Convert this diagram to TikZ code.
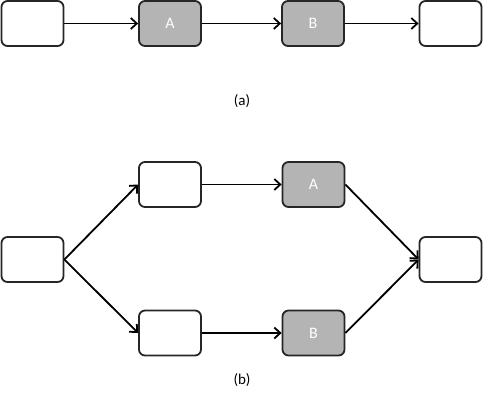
\documentclass[tikz,border=0pt]{standalone}
\usepackage{fontspec}
\setmainfont{Carlito}
\usetikzlibrary{arrows.meta}
\definecolor{boxgray}{HTML}{B4B4B4}
\begin{document}
\begin{tikzpicture}[x=1pt,y=-1pt,
  box/.style={draw=black!85,line width=1.8pt,rounded corners=6pt,minimum width=62pt,minimum height=45pt,inner sep=0pt,fill=white,font=\fontsize{16}{18}\selectfont},
  gbox/.style={box,fill=boxgray,text=white},
  conn/.style={line width=1.8pt,-{Straight Barb[length=6pt,width=11pt,line width=1.8pt]}},
  lbl/.style={font=\fontsize{15}{17}\selectfont}]
\useasboundingbox (0,0) rectangle (484,408);
% (a)
\node[box]  (a1) at (32.5,23.5) {};
\node[gbox] (a2) at (170,23.5) {A};
\node[gbox] (a3) at (313,23.5) {B};
\node[box]  (a4) at (450.5,23.5) {};
\draw[conn] (a1) -- (a2);
\draw[conn] (a2) -- (a3);
\draw[conn] (a3) -- (a4);
\node[lbl] (la) at (242,101) {(a)};
% (b)
\node[box]  (b0) at (32.5,259.5) {};
\node[box]  (b1) at (170,184.5) {};
\node[gbox] (b2) at (313.5,184.5) {A};
\node[box]  (b3) at (170,333) {};
\node[gbox] (b4) at (313.5,333) {B};
\node[box]  (b5) at (450.5,259.5) {};
\draw[conn] (b0.east) -- (b1.west);
\draw[conn] (b0.east) -- (b3.west);
\draw[conn] (b1) -- (b2);
\draw[conn] (b3) -- (b4);
\draw[conn] (b2.east) -- (b5.west);
\draw[conn] (b4.east) -- (b5.west);
\node[lbl] (lb) at (242,380) {(b)};
\end{tikzpicture}
\end{document}
